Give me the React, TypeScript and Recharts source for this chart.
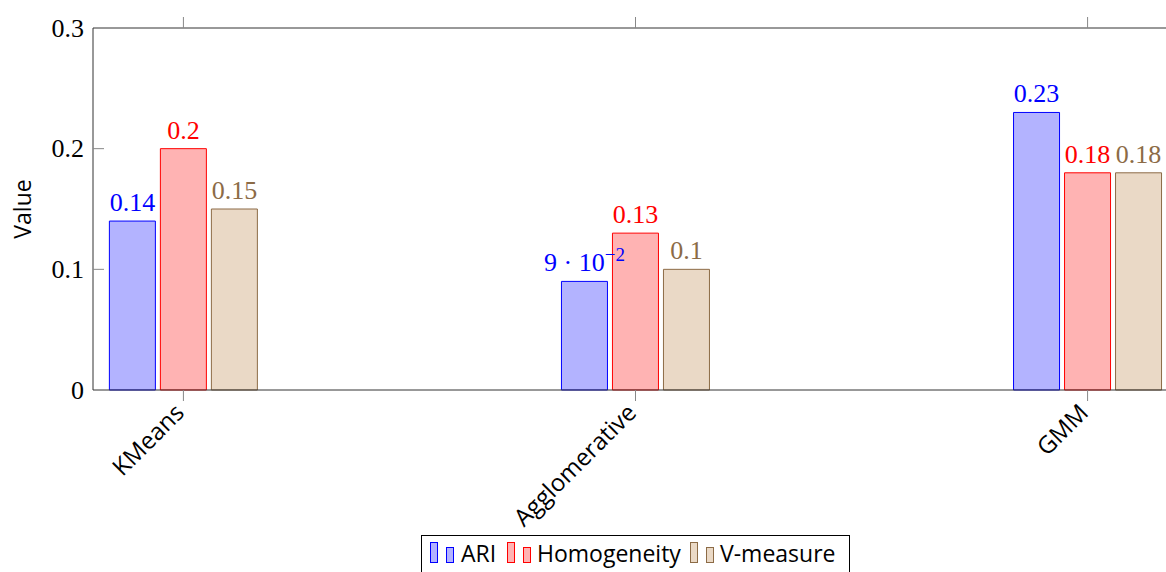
import React from "react";
import { BarChart, Bar, XAxis, YAxis, LabelList } from "recharts";

const categories = ["KMeans", "Agglomerative", "GMM"];
const ariValues = [0.14, 0.09, 0.23];
const homogeneityValues = [0.2, 0.13, 0.18];
const vMeasureValues = [0.15, 0.1, 0.18];
const yTicks = [0, 0.1, 0.2, 0.3];
const xTicks = [0, 1, 2];

const SERIF = "'Liberation Serif', 'Times New Roman', serif";
const SANS = "'Open Sans', 'DejaVu Sans', sans-serif";

const series = [
  { key: "ari", name: "ARI", fill: "#b3b3ff", stroke: "#0000ff", text: "#0000ff" },
  { key: "homogeneity", name: "Homogeneity", fill: "#ffb3b3", stroke: "#ff0000", text: "#ff0000" },
  { key: "vmeasure", name: "V-measure", fill: "#ead9c6", stroke: "#8c6b46", text: "#8c6b46" },
];

const data = categories.map((name, i) => ({
  pos: i,
  name,
  ari: ariValues[i],
  homogeneity: homogeneityValues[i],
  vmeasure: vMeasureValues[i],
}));

// pgfplots style: small values go to scientific notation
function BarValue({ x, y, width, value, color }: any) {
  const cx = Number(x) + Number(width) / 2;
  const cy = Number(y) - 10;
  if (value > 0 && value < 0.1) {
    const exp = Math.floor(Math.log10(value));
    const mant = Math.round(value / Math.pow(10, exp));
    return (
      <text x={cx} y={cy} textAnchor="middle" fill={color} fontFamily={SERIF} fontSize={26}>
        <tspan>{`${mant} · 10`}</tspan>
        <tspan dy={-10} fontSize={19}>{`−${-exp}`}</tspan>
      </text>
    );
  }
  return (
    <text x={cx} y={cy} textAnchor="middle" fill={color} fontFamily={SERIF} fontSize={26}>
      {String(value)}
    </text>
  );
}

function CategoryTick({ x, y, payload }: any) {
  const px = x - 10;
  const py = y - 2;
  return (
    <text
      x={px}
      y={py}
      dy="0.72em"
      textAnchor="end"
      transform={`rotate(-45 ${px} ${py})`}
      fontFamily={SANS}
      fontSize={24}
      fill="#000"
    >
      {categories[payload.value]}
    </text>
  );
}

function ValueTick({ x, y, payload }: any) {
  const v = payload.value;
  const inner = v !== 0 && v !== 0.3;
  return (
    <g>
      {inner && <line x1={x} x2={x + 11} y1={y} y2={y} stroke="#888" />}
      <text x={x - 9} y={y} dominantBaseline="central" textAnchor="end" fontFamily={SERIF} fontSize={26} fill="#000">
        {String(v)}
      </text>
    </g>
  );
}

// legend entry offsets inside the box: two bar icons, then the name
const legendSlots = [
  { icon: 8, text: 39 },
  { icon: 85, text: 115 },
  { icon: 268, text: 298 },
];

function LegendBox() {
  return (
    <div
      style={{
        position: "absolute",
        left: 421,
        top: 535,
        width: 429,
        height: 50,
        border: "1px solid #000",
        boxSizing: "border-box",
        fontFamily: SANS,
        fontSize: 23,
      }}
    >
      {series.map((s, i) => (
        <React.Fragment key={s.key}>
          <span style={{ position: "absolute", left: legendSlots[i].icon, top: 6, width: 8, height: 21, background: s.fill, border: `1px solid ${s.stroke}`, boxSizing: "border-box" }} />
          <span style={{ position: "absolute", left: legendSlots[i].icon + 16, top: 11, width: 8, height: 16, background: s.fill, border: `1px solid ${s.stroke}`, boxSizing: "border-box" }} />
          <span style={{ position: "absolute", left: legendSlots[i].text, top: 1, lineHeight: "32px", whiteSpace: "nowrap" }}>{s.name}</span>
        </React.Fragment>
      ))}
    </div>
  );
}

export default function App() {
  return (
    <div style={{ position: "absolute", left: 0, top: 0, width: 1166, height: 572, overflow: "hidden", background: "#fff" }}>
      <BarChart
        width={1200}
        height={572}
        data={data}
        margin={{ top: 17, right: 22, left: 0, bottom: 0 }}
        barSize={46}
        barGap={5}
      >
        <XAxis
          xAxisId="bottom"
          dataKey="pos"
          type="number"
          domain={[-0.2, 2.2]}
          ticks={xTicks}
          allowDataOverflow
          height={182}
          stroke="#333"
          tickLine={{ stroke: "#888" }}
          tickSize={11}
          tickMargin={3}
          tick={<CategoryTick />}
          interval={0}
        />
        <XAxis
          xAxisId="top"
          orientation="top"
          dataKey="pos"
          type="number"
          domain={[-0.2, 2.2]}
          ticks={xTicks}
          allowDataOverflow
          height={11}
          stroke="#333"
          tickLine={{ stroke: "#888" }}
          tickSize={11}
          tick={() => <g />}
          interval={0}
        />
        <YAxis
          type="number"
          domain={[0, 0.3]}
          ticks={yTicks}
          width={93}
          stroke="#333"
          tickLine={false}
          tickSize={0}
          tickMargin={0}
          tick={<ValueTick />}
          interval={0}
          label={() => (
            <text x={22} y={209} transform="rotate(-90 22 209)" textAnchor="middle" dominantBaseline="central" fontFamily={SANS} fontSize={23} fill="#000">
              Value
            </text>
          )}
        />
        {series.map((s) => (
          <Bar
            key={s.key}
            xAxisId="bottom"
            dataKey={s.key}
            name={s.name}
            fill={s.fill}
            stroke={s.stroke}
            strokeWidth={1}
            isAnimationActive={false}
          >
            <LabelList dataKey={s.key} content={(p: any) => <BarValue {...p} color={s.text} />} />
          </Bar>
        ))}
      </BarChart>
      <LegendBox />
    </div>
  );
}
